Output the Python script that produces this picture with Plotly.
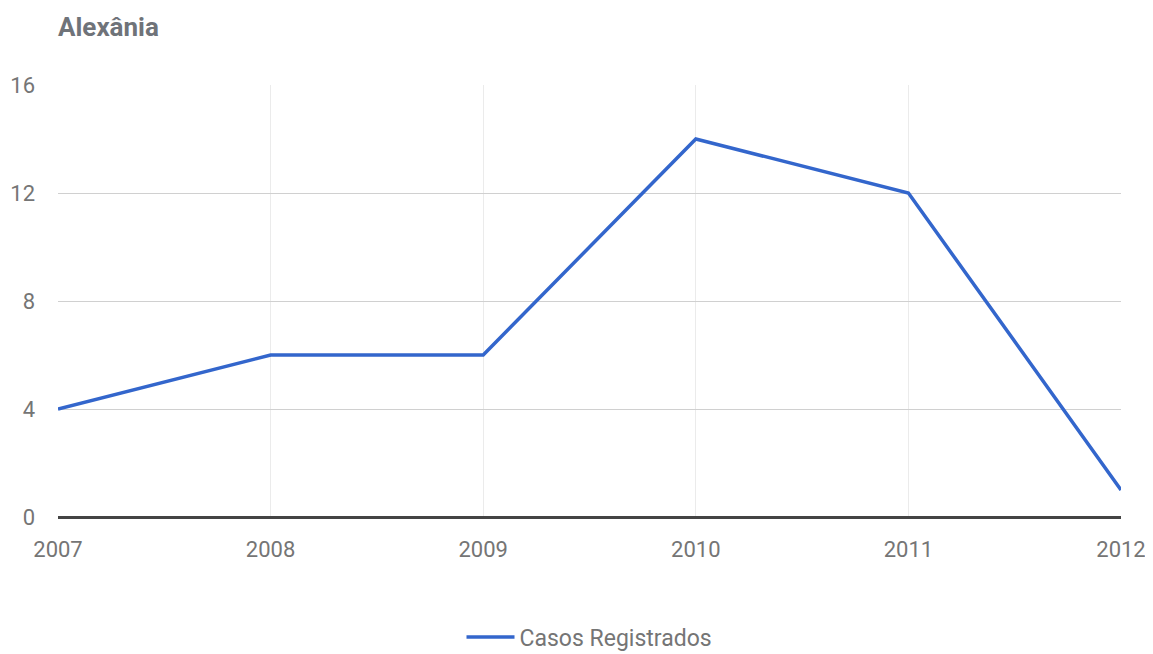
import plotly.graph_objects as go

years = [2007, 2008, 2009, 2010, 2011, 2012]
casos = [4, 6, 6, 14, 12, 1]
y_ticks = [0, 4, 8, 12, 16]
series_name = "Casos Registrados"
title_text = "Alexânia"

fig = go.Figure()
fig.add_trace(go.Scatter(
    x=years, y=casos, mode="lines", name=series_name,
    line=dict(color="#3366cc", width=3.5),
))

font_family = "Roboto, 'Liberation Sans Narrow', Arial, sans-serif"

fig.update_layout(
    width=1153, height=654,
    margin=dict(l=50, r=40, t=77, b=145, autoexpand=False),
    paper_bgcolor="white", plot_bgcolor="white",
    font=dict(family=font_family, color="#757575", size=22),
    title=dict(text="<b>" + title_text + "</b>", x=50/1153, xanchor="left",
               y=1 - 19/654, yanchor="middle",
               font=dict(size=26, color="#6f7379", family=font_family)),
    showlegend=True,
    legend=dict(orientation="h", x=0.5, xanchor="center", y=-0.278, yanchor="middle",
                itemwidth=48,
                font=dict(size=23, color="#757575")),
    xaxis=dict(
        range=[2007, 2012], tickvals=years, ticktext=[str(y) for y in years],
        showgrid=True, gridcolor="#ebebeb", gridwidth=1,
        zeroline=False, showline=False, ticks="", ticklabelstandoff=17,
        fixedrange=True,
    ),
    yaxis=dict(
        range=[0, 16], tickvals=y_ticks,
        showgrid=True, gridcolor="#d0d0d0", gridwidth=1,
        zeroline=True, zerolinecolor="#444444", zerolinewidth=2.5,
        showline=False, ticks="", ticklabelstandoff=22,
    ),
)

fig.write_html("out.html")
